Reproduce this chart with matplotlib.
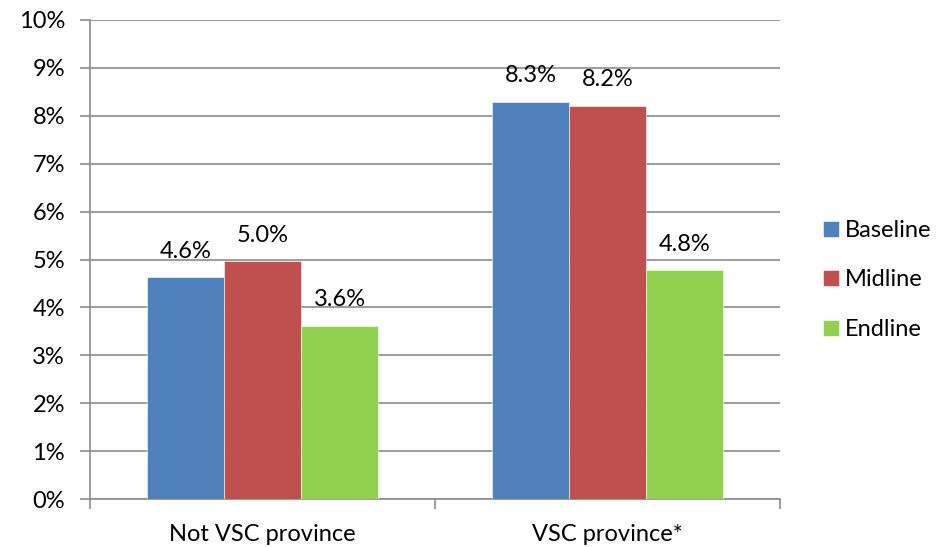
import matplotlib
matplotlib.use("Agg")
import matplotlib.pyplot as plt
from matplotlib.ticker import FixedLocator, FuncFormatter
import numpy as np

plt.rcParams['font.family'] = ['Lato', 'DejaVu Sans']

categories = ["Not VSC province", "VSC province*"]
series_names = ["Baseline", "Midline", "Endline"]
baseline = [4.63, 8.29]
midline = [4.96, 8.21]
endline = [3.62, 4.78]
yticks = list(range(0, 11))

colors = ["#4F81BD", "#C0504D", "#92D050"]
grid_color = "#8C8C8C"
fs = 17

fig = plt.figure(figsize=(9.53, 5.47), dpi=100)
ax = fig.add_axes([90 / 953, 48 / 547, 690 / 953, 479 / 547])

x = np.arange(len(categories))
width = 0.2232
series = [baseline, midline, endline]
for i, (vals, name, col) in enumerate(zip(series, series_names, colors)):
    b = ax.bar(x + (i - 1) * width, vals, width, color=col, label=name,
               edgecolor="white", linewidth=0.4, zorder=3)
    for rect, v in zip(b, vals):
        ax.annotate(f"{v:.1f}%", (rect.get_x() + rect.get_width() / 2, rect.get_height()),
                    xytext=(0, 14), textcoords="offset points",
                    ha="center", va="baseline", fontsize=fs, color="black")

ax.set_xlim(-0.5, 1.5)
ax.set_ylim(0, 10)
ax.yaxis.set_major_locator(FixedLocator(yticks))
ax.yaxis.set_major_formatter(FuncFormatter(lambda v, p: f"{int(v)}%"))
ax.grid(axis="y", color=grid_color, linewidth=1.2, zorder=0)
ax.set_axisbelow(True)

ax.set_xticks(x)
ax.set_xticklabels(categories)
ax.set_xticks([-0.5, 0.5, 1.5], minor=True)
ax.tick_params(axis="x", which="major", length=0, pad=18, labelsize=fs)
ax.tick_params(axis="x", which="minor", length=7, width=1.2, color=grid_color)
ax.tick_params(axis="y", length=7, width=1.2, color=grid_color, pad=11, labelsize=fs)

for s in ["top", "right"]:
    ax.spines[s].set_visible(False)
for s in ["left", "bottom"]:
    ax.spines[s].set_color(grid_color)
    ax.spines[s].set_linewidth(1.2)

ax.legend(loc="center left", bbox_to_anchor=(802 / 953, 267 / 547),
          bbox_transform=fig.transFigure, frameon=False, fontsize=fs,
          handlelength=0.66, handleheight=0.66, handletextpad=0.25,
          labelspacing=1.2)

fig.savefig("out.png", dpi=100)
